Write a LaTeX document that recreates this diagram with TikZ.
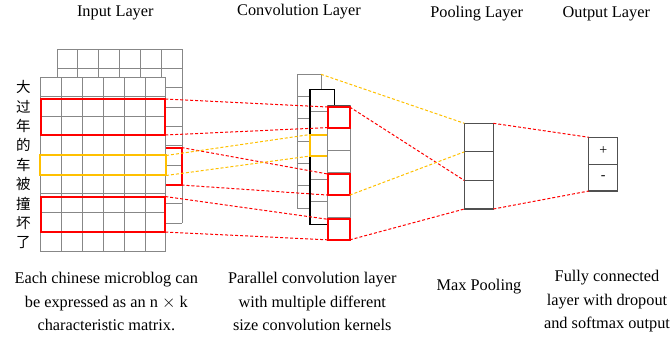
\documentclass[tikz,border=0pt]{standalone}
\usepackage{fontspec}
\setmainfont{Liberation Serif}
\newfontfamily\cjk{Noto Sans CJK SC}
\definecolor{myred}{RGB}{255,0,0}
\definecolor{myyellow}{RGB}{255,192,0}
\definecolor{gridgray}{RGB}{135,135,135}
\definecolor{darkgray2}{RGB}{80,80,80}
\begin{document}
\begin{tikzpicture}[x=1pt,y=-1pt,
  gridline/.style={draw=gridgray, line width=1pt},
  cell/.style={draw=gridgray, line width=1pt, fill=white, inner sep=0pt, outer sep=0pt},
  darkcell/.style={draw=darkgray2, line width=1.2pt, fill=white, inner sep=0pt, outer sep=0pt},
  hbox/.style={line width=2pt, inner sep=0pt, outer sep=0pt},
  redbox/.style={hbox, draw=myred},
  yelbox/.style={hbox, draw=myyellow},
  reddash/.style={draw=myred, line width=1pt, dash pattern=on 3pt off 2pt},
  yeldash/.style={draw=myyellow, line width=1pt, dash pattern=on 3pt off 2pt},
  title/.style={font=\fontsize{16.3}{20}\selectfont, inner sep=0pt},
  caption/.style={font=\fontsize{16.3}{23.5}\selectfont, align=center, inner sep=0pt},
  chr/.style={font=\cjk\fontsize{14.5}{16}\selectfont, inner sep=0pt},
  sign/.style={font=\fontsize{14}{16}\selectfont},
]
\useasboundingbox (0,0) rectangle (672,344);

% ---------- titles ----------
\node[title] (t1) at (115.3,13.3) {Input Layer};
\node[title] (t2) at (299,11.7) {Convolution Layer};
\node[title] (t3) at (476.7,14) {Pooling Layer};
\node[title] (t4) at (606.3,14) {Output Layer};

% ---------- input layer: back matrix ----------
\fill[white] (57,49.3) rectangle (182,223.3);
\foreach \i in {0,...,6} \draw[gridline] (57+\i*20.833,49.3) -- (57+\i*20.833,223.3);
\foreach \j in {0,...,9} \draw[gridline] (57,49.3+\j*19.333) -- (182,49.3+\j*19.333);
\node[redbox, minimum width=124, minimum height=37.5] (rb) at (119.5,166.3) {};

% ---------- input layer: front matrix ----------
\fill[white] (40.7,77.3) rectangle (166,251.7);
\foreach \i in {0,...,6} \draw[gridline] (40.7+\i*20.883,77.3) -- (40.7+\i*20.883,251.7);
\foreach \j in {0,...,9} \draw[gridline] (40.7,77.3+\j*19.378) -- (166,77.3+\j*19.378);
\node[redbox, minimum width=124.5, minimum height=36] (r1) at (103,117) {};
\node[yelbox, minimum width=126, minimum height=20] (y1) at (103,165.5) {};
\node[redbox, minimum width=124.5, minimum height=35.5] (r2) at (103,214.3) {};

% characters
\foreach \c [count=\n from 0] in {大,过,年,的,车,被,撞,坏,了}
  \node[chr] (ch\n) at (23.3,77.3+19.378*\n+9.9) {\c};

% ---------- convolution layer ----------
\foreach \k in {0,...,5}
  \node[cell, minimum width=23.3, minimum height=22.33] (cb\k) at (309.35,74.3+22.33*\k+11.165) {};
\foreach \k in {0,...,5}
  \node[cell, minimum width=24.3, minimum height=22.5] (cm\k) at (322.15,89.3+22.5*\k+11.25) {};
\draw[black, line width=1.3pt] (cm0.north west) rectangle (cm5.south east);
\node[yelbox, minimum width=23, minimum height=21.5] (ym) at (321.5,145.3) {};
\foreach \k in {0,...,5}
  \node[cell, minimum width=22.6, minimum height=22.33] (cf\k) at (339,106+22.33*\k+11.165) {};
\draw[darkgray2, line width=1.2pt] (cf0.north west) -- (cf0.north east);
\node[redbox, minimum width=21.5, minimum height=20.5] (c1) at (339,117.3) {};
\node[redbox, minimum width=21.5, minimum height=21] (c2) at (339,184.6) {};
\node[redbox, minimum width=21.5, minimum height=20.5] (c3) at (339,229.6) {};

% ---------- pooling layer ----------
\foreach \k in {0,1,2}
  \node[darkcell, minimum width=29, minimum height=28.57] (p\k) at (478.8,123.3+28.57*\k+14.285) {};

% ---------- output layer ----------
\node[darkcell, sign, minimum width=29, minimum height=26.85] (o1) at (603.2,150.7) {+};
\node[darkcell, sign, minimum width=29, minimum height=26.85] (o2) at (603.2,177.6) {-};

% ---------- connectors: input -> convolution ----------
\draw[reddash] (r1.north east) -- (c1.north west);
\draw[reddash] (r1.south east) -- (c1.south west);
\draw[reddash] (rb.north east) -- (c2.north west);
\draw[reddash] (rb.south east) -- (c2.south west);
\draw[reddash] (r2.north east) -- (c3.north west);
\draw[reddash] (r2.south east) -- (c3.south west);
\draw[yeldash] (y1.north east) -- (ym.north west);
\draw[yeldash] (y1.south east) -- (ym.south west);

% ---------- connectors: convolution -> pooling ----------
\draw[yeldash] (cb0.north east) -- (p0.north west);
\draw[reddash] (c1.north east) -- (p2.north west);
\draw[yeldash] (c2.south east) -- (p1.north west);
\draw[reddash] (c3.south east) -- (p2.south west);

% ---------- connectors: pooling -> output ----------
\draw[reddash] (p0.north east) -- (o1.north west);
\draw[reddash] (p2.south east) -- (o2.south west);

% ---------- captions ----------
\node[caption] (k1) at (106.3,301.7) {Each chinese microblog can\\be expressed as an n $\times$ k\\characteristic matrix.};
\node[caption] (k2) at (312.3,301.7) {Parallel convolution layer\\with multiple different\\size convolution kernels};
\node[caption] (k3) at (479,286.7) {Max Pooling};
\node[caption] (k4) at (607,301.3) {Fully connected\\layer with dropout\\and softmax output};
\end{tikzpicture}
\end{document}
